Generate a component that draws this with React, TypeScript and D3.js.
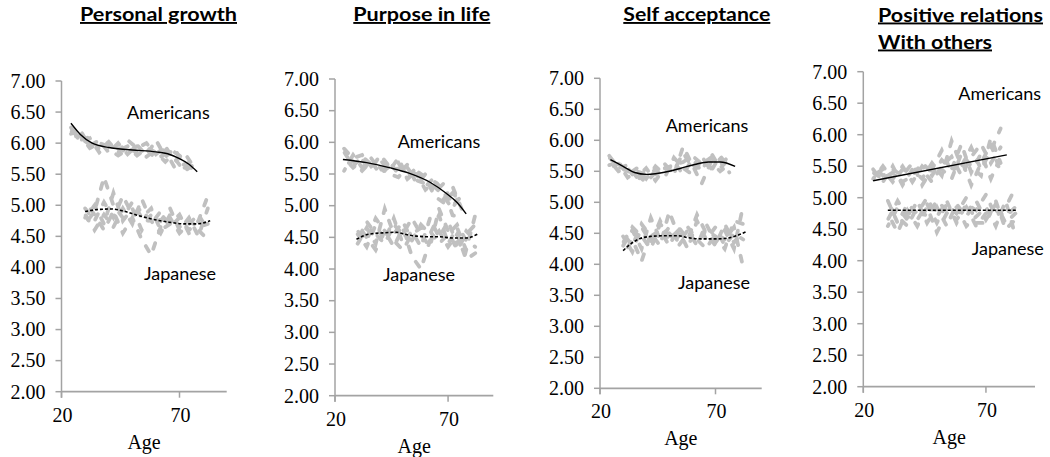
import React from "react";
import * as d3 from "d3";

// ---------- data ----------
const panelTitles = [["Personal growth"], ["Purpose in life"], ["Self acceptance"], ["Positive relations", "With others"]];
const groupLabels = ["Americans", "Japanese"];
const yTickValues = [2, 2.5, 3, 3.5, 4, 4.5, 5, 5.5, 6, 6.5, 7];
const xTickValues = [20, 70];
const xAxisTitle = "Age";

// ages of the grey individual trajectories
const americanAges = [24, 28, 32, 36, 40, 44, 48, 52, 56, 60, 64, 68, 72, 76];
const japaneseAges = [30, 34, 38, 42, 46, 50, 54, 58, 62, 66, 70, 74, 78, 82];

// Personal growth
const pgAmericanFit: [number, number][] = [[24, 6.32], [28, 6.14], [33, 6.0], [40, 5.93], [50, 5.89], [60, 5.86], [65, 5.83], [70, 5.75], [74, 5.66], [77.5, 5.54]];
const pgJapaneseFit: [number, number][] = [[30, 4.9], [35, 4.93], [41, 4.94], [47, 4.9], [52, 4.84], [57, 4.79], [62, 4.75], [67, 4.72], [72, 4.7], [77, 4.7], [83, 4.75]];
const pgAmericanLines = [
  [6.25, 6.05, 6.1, 5.9, 6.02, 5.85, 6.05, 5.92, 6.0, 5.82, 5.95, 5.7, 5.85, 5.62],
  [6.15, 6.2, 5.95, 6.05, 5.85, 6.0, 5.82, 5.97, 5.8, 6.05, 5.78, 5.92, 5.6, 5.7],
  [6.3, 6.0, 6.08, 5.85, 5.98, 5.88, 5.95, 5.8, 5.92, 5.85, 5.7, 5.85, 5.75, 5.55],
  [6.1, 6.12, 5.92, 6.0, 5.9, 5.8, 5.9, 5.86, 5.78, 5.9, 5.88, 5.6, 5.66, 5.5],
  [6.2, 6.08, 5.98, 6.0, 5.95, 5.92, 5.85, 5.95, 5.9, 5.75, 5.82, 5.75, 5.55, 5.65],
];
const pgJapaneseLines = [
  [4.95, 4.75, 5.05, 4.8, 5.15, 4.85, 4.95, 4.7, 4.9, 4.65, 4.8, 4.6, 4.75, 5.15],
  [4.8, 5.0, 4.7, 5.2, 4.75, 4.95, 4.6, 4.85, 4.75, 4.95, 4.6, 4.8, 4.5, 4.95],
  [5.05, 4.85, 4.6, 4.9, 4.55, 4.8, 4.45, 4.2, 4.65, 4.8, 4.55, 4.7, 4.85, 4.6],
  [4.7, 4.9, 5.45, 5.0, 4.8, 5.05, 4.8, 4.95, 4.6, 4.7, 4.85, 4.55, 4.6, 4.45],
  [4.85, 4.6, 4.85, 4.65, 4.95, 4.7, 5.1, 4.75, 4.55, 4.85, 4.65, 4.75, 4.65, 4.7],
];

// Purpose in life
const plAmericanFit: [number, number][] = [[23.5, 5.73], [34, 5.68], [44, 5.6], [53, 5.51], [62, 5.37], [69, 5.2], [74, 5.05], [78, 4.87]];
const plJapaneseFit: [number, number][] = [[29.5, 4.47], [35, 4.55], [41, 4.57], [47, 4.58], [52, 4.54], [56, 4.52], [61, 4.51], [66, 4.51], [72, 4.49], [78, 4.49], [83, 4.55]];
const plAmericanLines = [
  [5.9, 5.75, 5.8, 5.62, 5.72, 5.55, 5.75, 5.45, 5.6, 5.3, 5.45, 5.1, 5.3, 4.95],
  [5.55, 5.8, 5.6, 5.75, 5.55, 5.7, 5.5, 5.65, 5.35, 5.5, 5.2, 5.35, 5.0, 5.15],
  [5.75, 5.6, 5.72, 5.58, 5.8, 5.62, 5.58, 5.55, 5.5, 5.25, 5.38, 5.25, 4.85, 4.8],
  [5.65, 5.7, 5.55, 5.7, 5.5, 5.62, 5.68, 5.42, 5.55, 5.45, 5.15, 5.05, 5.2, 5.05],
  [5.85, 5.62, 5.78, 5.65, 5.6, 5.5, 5.45, 5.6, 5.4, 5.35, 5.3, 5.15, 4.95, 5.25],
];
const plJapaneseLines = [
  [4.4, 4.65, 4.4, 4.95, 4.55, 4.75, 4.45, 4.7, 4.55, 4.85, 4.4, 4.65, 4.3, 4.85],
  [4.55, 4.35, 4.7, 4.45, 4.8, 4.4, 4.6, 4.35, 4.8, 4.5, 4.75, 4.4, 4.6, 4.45],
  [4.7, 4.5, 4.3, 4.6, 4.35, 4.65, 4.2, 4.0, 4.45, 4.6, 4.35, 4.55, 4.15, 4.25],
  [4.45, 4.75, 4.55, 4.4, 4.7, 4.55, 4.8, 4.55, 4.35, 4.95, 4.6, 4.3, 4.55, 4.7],
  [4.6, 4.45, 4.8, 4.6, 4.45, 4.3, 4.55, 4.65, 4.6, 4.4, 4.55, 4.7, 4.45, 4.35],
];

// Self acceptance
const saAmericanFit: [number, number][] = [[24.5, 5.69], [30, 5.58], [35, 5.48], [40, 5.45], [44, 5.46], [50, 5.5], [55, 5.55], [61, 5.61], [67, 5.65], [72, 5.65], [78.5, 5.58]];
const saJapaneseFit: [number, number][] = [[30, 4.22], [33, 4.32], [37, 4.41], [42, 4.45], [48, 4.46], [54, 4.46], [58, 4.43], [64, 4.41], [70, 4.41], [75, 4.42], [79, 4.46], [83, 4.52]];
const saAmericanLines = [
  [5.75, 5.55, 5.6, 5.4, 5.55, 5.35, 5.55, 5.5, 5.8, 5.55, 5.75, 5.5, 5.75, 5.55],
  [5.6, 5.65, 5.45, 5.55, 5.38, 5.58, 5.45, 5.65, 5.45, 5.7, 5.5, 5.8, 5.55, 5.7],
  [5.68, 5.5, 5.55, 5.35, 5.5, 5.45, 5.62, 5.45, 5.9, 5.6, 5.3, 5.65, 5.5, 5.62],
  [5.55, 5.62, 5.4, 5.5, 5.45, 5.52, 5.4, 5.72, 5.55, 5.45, 5.68, 5.55, 5.7, 5.48],
  [5.72, 5.58, 5.5, 5.45, 5.32, 5.48, 5.55, 5.6, 5.65, 5.75, 5.62, 5.72, 5.6, 5.75],
];
const saJapaneseLines = [
  [4.3, 4.55, 4.25, 4.75, 4.4, 4.6, 4.35, 4.55, 4.3, 4.65, 4.35, 4.55, 4.25, 4.95],
  [4.45, 4.2, 4.6, 4.35, 4.7, 4.4, 4.55, 4.25, 4.7, 4.4, 4.6, 4.3, 4.5, 4.4],
  [4.15, 4.4, 4.05, 4.5, 4.3, 4.85, 4.45, 4.6, 4.4, 4.25, 4.5, 4.4, 4.6, 3.95],
  [4.5, 4.3, 4.65, 4.45, 4.55, 4.3, 4.6, 4.4, 4.8, 4.5, 4.3, 4.65, 4.35, 4.55],
  [4.35, 4.6, 4.45, 4.25, 4.65, 4.5, 4.3, 4.5, 4.35, 4.55, 4.45, 4.25, 4.7, 4.65],
];

// Positive relations with others
const prAmericanFit: [number, number][] = [[24, 5.27], [78.5, 5.68]];
const prJapaneseFit: [number, number][] = [[30, 4.8], [83, 4.8]];
const prAmericanLines = [
  [5.45, 5.25, 5.5, 5.2, 5.45, 5.3, 5.55, 5.35, 5.9, 5.5, 5.8, 5.45, 5.75, 6.1],
  [5.3, 5.5, 5.3, 5.5, 5.25, 5.5, 5.35, 5.6, 5.45, 5.85, 5.4, 5.7, 5.3, 5.65],
  [5.5, 5.35, 5.45, 5.35, 5.55, 5.2, 5.45, 5.75, 5.4, 5.6, 5.2, 5.55, 5.85, 5.4],
  [5.35, 5.45, 5.25, 5.45, 5.4, 5.45, 5.25, 5.5, 5.65, 5.35, 5.65, 5.85, 5.55, 5.8],
  [5.4, 5.3, 5.4, 5.25, 5.35, 5.55, 5.4, 5.45, 5.3, 5.7, 5.5, 5.35, 5.95, 5.55],
];
const prJapaneseLines = [
  [4.95, 4.6, 4.9, 4.75, 5.0, 4.7, 4.95, 4.6, 4.9, 4.8, 5.05, 4.7, 4.85, 5.15],
  [4.55, 4.85, 4.65, 4.95, 4.6, 4.85, 4.55, 4.9, 4.7, 4.95, 4.65, 4.9, 4.6, 4.75],
  [4.75, 4.45, 4.8, 4.55, 4.85, 4.45, 4.75, 4.85, 4.55, 4.7, 4.85, 4.55, 4.95, 4.4],
  [4.9, 4.7, 4.55, 4.85, 4.7, 4.95, 4.8, 4.65, 4.85, 4.55, 4.75, 4.8, 4.7, 4.85],
  [4.65, 4.95, 4.7, 4.65, 4.9, 4.6, 4.9, 4.75, 5.0, 4.6, 4.6, 4.95, 4.5, 4.65],
];

const americanFits = [pgAmericanFit, plAmericanFit, saAmericanFit, prAmericanFit];
const japaneseFits = [pgJapaneseFit, plJapaneseFit, saJapaneseFit, prJapaneseFit];
const americanLines = [pgAmericanLines, plAmericanLines, saAmericanLines, prAmericanLines];
const japaneseLines = [pgJapaneseLines, plJapaneseLines, saJapaneseLines, prJapaneseLines];

// ---------- layout (pixels) ----------
const layout = [
  { axisX: 61.5, xEnd: 226.7, top: 81, bottom: 391.7, titleX: 80, titleY: 21, titleW: [157], amX: 127, amY: 119, jpX: 144, jpY: 280 },
  { axisX: 335, xEnd: 493.3, top: 79, bottom: 395.7, titleX: 353.3, titleY: 21, titleW: [137], amX: 397.7, amY: 148, jpX: 383, jpY: 281 },
  { axisX: 600, xEnd: 761.7, top: 78.3, bottom: 388.3, titleX: 623.3, titleY: 21, titleW: [147], amX: 665.7, amY: 132, jpX: 678, jpY: 289 },
  { axisX: 863.3, xEnd: 1035, top: 71.7, bottom: 386.7, titleX: 878, titleY: 21.5, titleW: [165, 114], amX: 958.3, amY: 100, jpX: 971.7, jpY: 255 },
];

const AXIS = "#a3a3a3";
const CLOUD = "#c0c0c0";
const SERIF = "'Liberation Serif', 'Times New Roman', serif";
const SANS = "Lato, 'Open Sans', sans-serif";

function Panel({ i }: { i: number }) {
  const L = layout[i];
  const x = d3.scaleLinear().domain([20, 90]).range([L.axisX, L.xEnd]);
  const y = d3.scaleLinear().domain([2, 7]).range([L.bottom, L.top]);
  const fitLine = d3.line<[number, number]>().x((d) => x(d[0])).y((d) => y(d[1])).curve(d3.curveMonotoneX);
  const cloudLine = (ages: number[]) =>
    d3.line<number>().x((_, k) => x(ages[k])).y((v) => y(v));

  return (
    <g>
      {panelTitles[i].map((t, k) => (
        <text
          key={t}
          x={L.titleX}
          y={L.titleY + k * 27}
          fontFamily={SANS}
          fontWeight="bold"
          fontSize={19}
          textLength={L.titleW[k]}
          lengthAdjust="spacingAndGlyphs"
          style={{ textDecoration: "underline" }}
          fill="#000"
        >
          {t}
        </text>
      ))}
      {/* grey individual trajectories */}
      {americanLines[i].map((vals, k) => (
        <path key={"a" + k} d={cloudLine(americanAges)(vals) || ""} fill="none" stroke={CLOUD}
          strokeWidth={3.8} strokeLinecap="round" strokeDasharray="6 11" strokeDashoffset={k * 4} />
      ))}
      {japaneseLines[i].map((vals, k) => (
        <path key={"j" + k} d={cloudLine(japaneseAges)(vals) || ""} fill="none" stroke={CLOUD}
          strokeWidth={3.8} strokeLinecap="round" strokeDasharray="6 11" strokeDashoffset={k * 4} />
      ))}
      {/* axes */}
      <line x1={L.axisX} x2={L.axisX} y1={L.top} y2={L.bottom + 6} stroke={AXIS} strokeWidth={1.5} />
      <line x1={L.axisX} x2={L.xEnd} y1={L.bottom} y2={L.bottom} stroke={AXIS} strokeWidth={1.8} />
      {yTickValues.map((v) => (
        <g key={v}>
          <line x1={L.axisX - 6} x2={L.axisX} y1={y(v)} y2={y(v)} stroke={AXIS} strokeWidth={1.5} />
          <text x={L.axisX - 16} y={y(v)} dy="0.34em" textAnchor="end" fontFamily={SERIF} fontSize={20} fill="#000">
            {v.toFixed(2)}
          </text>
        </g>
      ))}
      {xTickValues.map((v) => (
        <g key={v}>
          <line x1={x(v)} x2={x(v)} y1={L.bottom} y2={L.bottom + 6} stroke={AXIS} strokeWidth={1.5} />
          <text x={x(v) + 1} y={L.bottom + 30} textAnchor="middle" fontFamily={SERIF} fontSize={20} fill="#000">
            {v}
          </text>
        </g>
      ))}
      <text x={(L.axisX + L.xEnd) / 2} y={L.bottom + 57} textAnchor="middle" fontFamily={SERIF} fontSize={20} fill="#000">
        {xAxisTitle}
      </text>
      {/* fitted lines */}
      <path d={fitLine(americanFits[i]) || ""} fill="none" stroke="#000" strokeWidth={1.4} />
      <path d={fitLine(japaneseFits[i]) || ""} fill="none" stroke="#000" strokeWidth={1.6} strokeDasharray="3 2" />
      <text x={L.amX} y={L.amY} fontFamily={SANS} fontSize={18} fill="#000">{groupLabels[0]}</text>
      <text x={L.jpX} y={L.jpY} fontFamily={SANS} fontSize={18} fill="#000">{groupLabels[1]}</text>
    </g>
  );
}

export default function App() {
  return (
    <svg width={1050} height={457} style={{ position: "absolute", left: 0, top: 0, background: "#fff" }}>
      <rect width={1050} height={457} fill="#fff" />
      {layout.map((_, i) => (
        <Panel key={i} i={i} />
      ))}
    </svg>
  );
}
